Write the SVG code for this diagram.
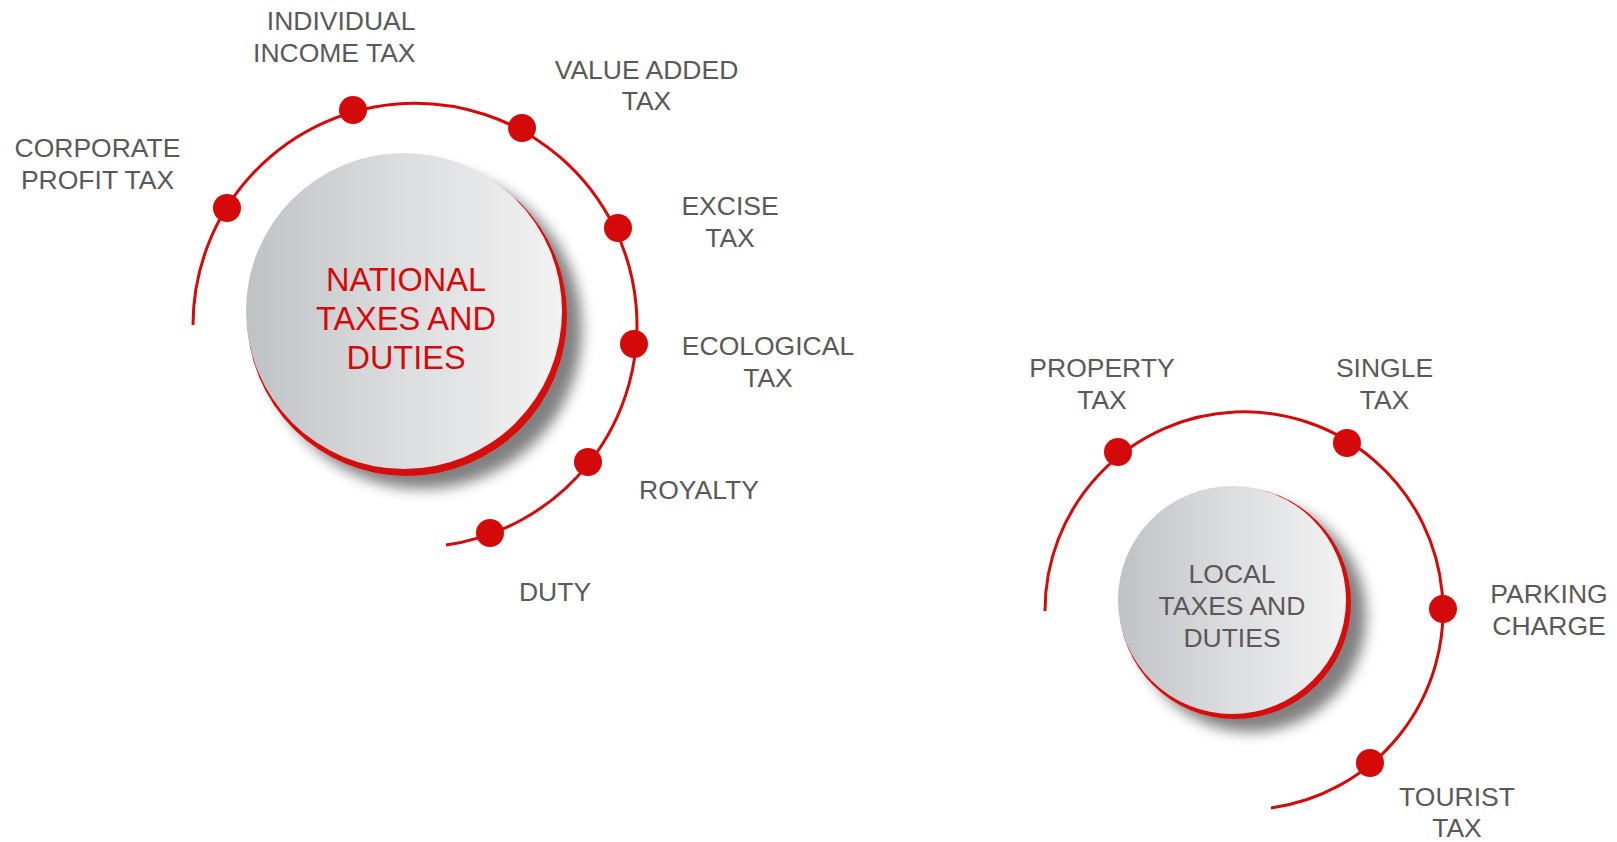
<svg xmlns="http://www.w3.org/2000/svg" width="1617" height="842" viewBox="0 0 1617 842">
<defs>
<linearGradient id="disc" x1="0" y1="0" x2="1" y2="0">
<stop offset="0" stop-color="#bfc2c5"/>
<stop offset="0.5" stop-color="#dcdddf"/>
<stop offset="1" stop-color="#f2f2f2"/>
</linearGradient>
<filter id="shadow" x="-30%" y="-30%" width="160%" height="160%">
<feGaussianBlur in="SourceAlpha" stdDeviation="7"/>
<feOffset dx="15" dy="13" result="b"/>
<feComponentTransfer><feFuncA type="linear" slope="0.5"/></feComponentTransfer>
<feMerge><feMergeNode/><feMergeNode in="SourceGraphic"/></feMerge>
</filter>
<style>
.lbl{font-family:"Liberation Sans",Arial,sans-serif;font-size:26.5px;fill:#595959;text-anchor:middle}
.arc{fill:none;stroke:#d40a0a;stroke-width:3}
.dot{fill:#d40a0a}
.rim{fill:#d40a0a}
.disc{fill:url(#disc)}
</style>
</defs>
<rect width="1617" height="842" fill="#ffffff"/>
<g id="connectors">
<path class="arc" d="M 193 325 A 222 222 0 1 1 446 545"/>
<path class="arc" d="M 1045 611 A 199 199 0 1 1 1271 808"/>
</g>
<g id="national">
<circle class="rim" cx="407" cy="316" r="160" filter="url(#shadow)"/>
<circle class="disc" cx="404" cy="311" r="158"/>
<text style="font-family:'Liberation Sans',Arial,sans-serif;font-size:32.5px;fill:#d40a0a;text-anchor:middle"><tspan x="406" y="291">NATIONAL</tspan><tspan x="406" y="330">TAXES AND</tspan><tspan x="406" y="369">DUTIES</tspan></text>
</g>
<g id="local">
<circle class="rim" cx="1235" cy="603" r="116" filter="url(#shadow)"/>
<circle class="disc" cx="1232" cy="600" r="114"/>
<text class="lbl"><tspan x="1232" y="583">LOCAL</tspan><tspan x="1232" y="615">TAXES AND</tspan><tspan x="1232" y="647">DUTIES</tspan></text>
</g>
<g id="corporate-profit-tax">
<circle class="dot" cx="227" cy="208" r="14"/>
<text class="lbl"><tspan x="97.5" y="157">CORPORATE</tspan><tspan x="97.5" y="189">PROFIT TAX</tspan></text>
</g>
<g id="individual-income-tax">
<circle class="dot" cx="353" cy="110" r="14"/>
<text class="lbl" style="text-anchor:end"><tspan x="415.5" y="30">INDIVIDUAL</tspan><tspan x="415.5" y="62">INCOME TAX</tspan></text>
</g>
<g id="value-added-tax">
<circle class="dot" cx="522" cy="128" r="14"/>
<text class="lbl"><tspan x="646.5" y="78.5">VALUE ADDED</tspan><tspan x="646.5" y="109.5">TAX</tspan></text>
</g>
<g id="excise-tax">
<circle class="dot" cx="618" cy="228" r="14"/>
<text class="lbl"><tspan x="730" y="214.5">EXCISE</tspan><tspan x="730" y="246.5">TAX</tspan></text>
</g>
<g id="ecological-tax">
<circle class="dot" cx="634" cy="344" r="14"/>
<text class="lbl"><tspan x="768" y="355">ECOLOGICAL</tspan><tspan x="768" y="387">TAX</tspan></text>
</g>
<g id="royalty">
<circle class="dot" cx="588" cy="462" r="14"/>
<text class="lbl" x="699" y="499">ROYALTY</text>
</g>
<g id="duty">
<circle class="dot" cx="490" cy="533" r="14"/>
<text class="lbl" x="555" y="601">DUTY</text>
</g>
<g id="property-tax">
<circle class="dot" cx="1118" cy="452" r="14"/>
<text class="lbl"><tspan x="1102" y="376.5">PROPERTY</tspan><tspan x="1102" y="408.5">TAX</tspan></text>
</g>
<g id="single-tax">
<circle class="dot" cx="1347" cy="443" r="14"/>
<text class="lbl"><tspan x="1384.5" y="376.5">SINGLE</tspan><tspan x="1384.5" y="408.5">TAX</tspan></text>
</g>
<g id="parking-charge">
<circle class="dot" cx="1443" cy="609" r="14"/>
<text class="lbl"><tspan x="1549" y="602.5">PARKING</tspan><tspan x="1549" y="634.5">CHARGE</tspan></text>
</g>
<g id="tourist-tax">
<circle class="dot" cx="1370" cy="763" r="14"/>
<text class="lbl"><tspan x="1457" y="805.5">TOURIST</tspan><tspan x="1457" y="836.5">TAX</tspan></text>
</g>
</svg>
